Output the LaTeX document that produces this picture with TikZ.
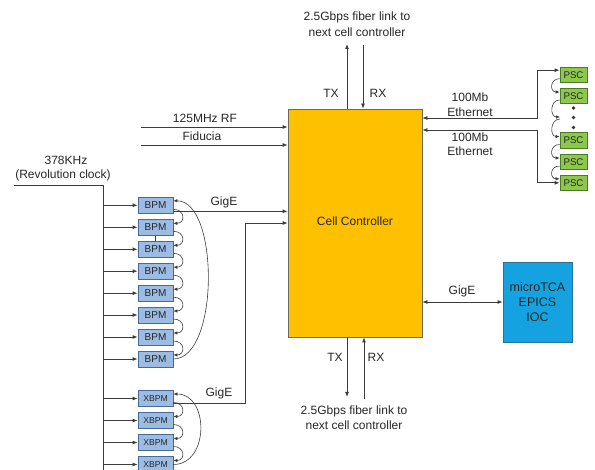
\documentclass[tikz,border=0pt]{standalone}
\usepackage{fontspec}
\setmainfont{Liberation Sans}
\usetikzlibrary{arrows.meta,calc}
\definecolor{ccfill}{HTML}{FFC000}
\definecolor{ccdraw}{HTML}{6E6A5A}
\definecolor{bpmfill}{HTML}{9DBCE3}
\definecolor{bpmdraw}{HTML}{4A6A96}
\definecolor{pscfill}{HTML}{8CC84B}
\definecolor{pscdraw}{HTML}{4E7A28}
\definecolor{tcafill}{HTML}{14A3E0}
\definecolor{tcadraw}{HTML}{2A6E9C}
\definecolor{ln}{HTML}{3C3C3C}
\begin{document}
\begin{tikzpicture}[x=1pt,y=-1pt,
  every node/.style={font=\fontsize{12}{14}\selectfont, text=black!85},
  arr/.style={draw=ln, line width=0.8pt, -{Latex[length=5pt,width=4pt]}},
  darr/.style={draw=ln, line width=0.8pt, {Latex[length=5pt,width=4pt]}-{Latex[length=5pt,width=4pt]}},
  ln/.style={draw=ln, line width=0.8pt},
  carr/.style={draw=ln, line width=0.6pt, -{Latex[length=4pt,width=3.5pt]}},
  ccbox/.style={draw=ccdraw, fill=ccfill, line width=0.8pt, minimum width=134pt, minimum height=228pt, inner sep=0pt},
  bpmbox/.style={draw=bpmdraw, fill=bpmfill, line width=0.8pt, minimum width=35pt, minimum height=16pt, inner sep=0pt, font=\fontsize{10}{12}\selectfont},
  xbpmbox/.style={bpmbox, font=\fontsize{8.6}{10}\selectfont},
  pscbox/.style={draw=pscdraw, fill=pscfill, line width=0.8pt, minimum width=27pt, minimum height=15.5pt, inner sep=0pt, font=\fontsize{9.7}{11}\selectfont},
  tcabox/.style={draw=tcadraw, fill=tcafill, line width=0.8pt, minimum width=69pt, minimum height=80pt, inner sep=0pt, align=center, font=\fontsize{12.5}{15}\selectfont},
  lbl/.style={inner sep=0pt, align=center}
]
\path[use as bounding box] (0,0) rectangle (595,470);
\clip (0,0) rectangle (595,470);

% Cell controller
\node[ccbox] (cc) at (355,223) {};
\node[lbl] (cct) at (355,221) {Cell Controller};

% microTCA
\node[tcabox] (tca) at (537.5,302) {microTCA\\EPICS\\IOC};
\draw[darr] (cc.east |- tca.west) -- (tca.west);
\node[lbl] (gigt) at (462,291) {GigE};

% top fiber
\coordinate (txt) at (347,44);
\coordinate (rxt) at (363,45);
\draw[arr] (txt |- cc.north) -- (txt);
\draw[arr] (rxt) -- (rxt |- cc.north);
\node[lbl] (tx1) at (331,93) {TX};
\node[lbl] (rx1) at (378,93) {RX};
\node[lbl] (f1a) at (357,17) {2.5Gbps fiber link to};
\node[lbl] (f1b) at (357,32) {next cell controller};

% bottom fiber
\coordinate (txb) at (347,397);
\coordinate (rxb) at (364,399);
\draw[arr] (txb |- cc.south) -- (txb);
\draw[arr] (rxb) -- (rxb |- cc.south);
\node[lbl] (tx2) at (335,357) {TX};
\node[lbl] (rx2) at (376,357) {RX};
\node[lbl] (f2a) at (354,411) {2.5Gbps fiber link to};
\node[lbl] (f2b) at (354,425) {next cell controller};

% RF / Fiducia
\coordinate (rf) at (141,127);
\coordinate (fid) at (141,145);
\draw[arr] (rf) -- (rf -| cc.west);
\draw[arr] (fid) -- (fid -| cc.west);
\node[lbl] (rft) at (205,118) {125MHz RF};
\node[lbl] (fidt) at (202,136) {Fiducia};

% PSC column
\foreach \i/\y in {1/74.7,2/96,3/140.5,4/162,5/182.8}
  \node[pscbox] (p\i) at (573.5,\y) {PSC};
\foreach \y in {108,117.5,127.5}
  \fill[ln] (573.5,\y) circle (1.2pt);
\coordinate (pm) at (560,118);
\draw[carr] ($(p1.west)+(0,4)$) .. controls +(-10,0) and +(-10,0) .. ($(p2.west)+(0,-4)$);
\draw[carr] ($(p2.west)+(0,4)$) .. controls +(-10,0) and +(-10,0) .. ($(pm)+(0,-1)$);
\draw[carr] ($(pm)+(0,1)$) .. controls +(-10,0) and +(-10,0) .. ($(p3.west)+(0,-4)$);
\draw[carr] ($(p3.west)+(0,4)$) .. controls +(-10,0) and +(-10,0) .. ($(p4.west)+(0,-4)$);
\draw[carr] ($(p4.west)+(0,4)$) .. controls +(-10,0) and +(-10,0) .. ($(p5.west)+(0,-4)$);

% Ethernet
\coordinate (e1) at (537,118);
\coordinate (e2) at (537,130);
\draw[darr] (e1 -| cc.east) -- (e1) |- ($(p1.west)+(0,-4.5)$);
\draw[darr] (e2 -| cc.east) -- (e2) |- (p5.west);
\node[lbl] (et1) at (470,97) {100Mb};
\node[lbl] (et2) at (470,112) {Ethernet};
\node[lbl] (et3) at (470,137) {100Mb};
\node[lbl] (et4) at (470,151) {Ethernet};

% BPM column
\foreach \i/\y in {1/205.3,2/227.3,3/249.3,4/271.2,5/293.2,6/315,7/337,8/359}
  \node[bpmbox] (b\i) at (155.5,\y) {BPM};
\foreach \i/\y in {1/398.5,2/420.5,3/442.5,4/464.5}
  \node[xbpmbox] (x\i) at (155.5,\y) {XBPM};

% clock
\coordinate (ck0) at (14,185);
\coordinate (ck) at (103,185);
\coordinate (ckb) at (103,480);
\draw[ln] (ck0) -- (ck) -- (ckb);
\node[lbl] (ckt1) at (66,160) {378KHz};
\node[lbl] (ckt2) at (63,175) {(Revolution clock)};
\foreach \n in {b1,b2,b3,b4,b5,b6,b7,b8,x1,x2,x3,x4}
  \draw[arr] (ck |- \n.west) -- (\n.west);

\draw[ln, line width=0.6pt] (b2.south) -- (b3.north);

% BPM ring arcs
\foreach \a/\b in {b1/b2,b2/b3,b3/b4,b4/b5,b5/b6,b6/b7,b7/b8,x1/x2,x2/x3,x3/x4}
  \draw[carr] ($(\a.east)+(0,4)$) .. controls +(12,0) and +(12,0) .. ($(\b.east)+(0,-4)$);
\draw[carr] (b8.east) .. controls +(46,0) and +(46,0) .. ($(b1.east)+(0,-4.5)$);
\draw[carr] (x4.east) .. controls +(36,0) and +(36,0) .. ($(x1.east)+(0,-4.5)$);

% GigE links
\coordinate (g1) at ($(b1.east)+(0,6)$);
\draw[arr] (g1) -- (g1 -| cc.west);
\node[lbl] (gt1) at (224,202) {GigE};
\coordinate (g2) at (245,223);
\coordinate (g3) at ($(x1.east)+(0,4.5)$);
\draw[arr] (g3) -- (g3 -| g2) -- (g2) -- (g2 -| cc.west);
\node[lbl] (gt2) at (219,393) {GigE};
\end{tikzpicture}
\end{document}
